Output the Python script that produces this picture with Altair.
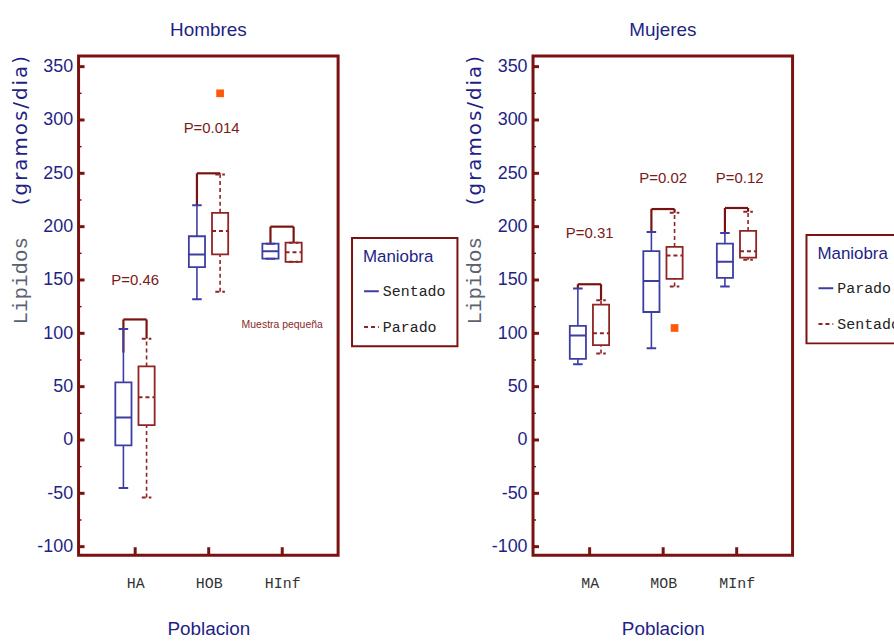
import altair as alt
import pandas as pd

# ---------------- data: Hombres ----------------
grupos_h = ["HA", "HOB", "HInf"]
h_sent_min = [-45, 132, 170]
h_sent_q1 = [-5, 162, 170]
h_sent_med = [21, 174, 177]
h_sent_q3 = [54, 191, 184]
h_sent_max = [104, 220, 184]
h_par_min = [-54, 139, 167]
h_par_q1 = [14, 174, 167]
h_par_med = [40, 196, 176]
h_par_q3 = [69, 213, 185]
h_par_max = [95, 249, 185]
h_brk_top = [113, 250, 200]
h_brk_left = [82, 220, 184]
h_brk_right = [95, 249, 185]
h_out_idx = [1]
h_out_val = [325]
h_p_text = ["P=0.46", "P=0.014"]
h_p_idx = [0, 1.04]
h_p_y = [150, 292]
h_note_text = ["Muestra pequeña"]
h_note_idx = [2.0]
h_note_y = [108]

# ---------------- data: Mujeres ----------------
grupos_m = ["MA", "MOB", "MInf"]
m_par_min = [71, 86, 144]
m_par_q1 = [76, 120, 152]
m_par_med = [98, 149, 167]
m_par_q3 = [107, 177, 184]
m_par_max = [142, 195, 194]
m_sent_min = [81, 144, 169]
m_sent_q1 = [89, 151, 171]
m_sent_med = [100, 173, 177]
m_sent_q3 = [127, 181, 196]
m_sent_max = [131, 213, 214]
m_brk_top = [146, 216.5, 217.5]
m_brk_left = [142, 195, 194]
m_brk_right = [131, 213, 214]
m_out_idx = [1]
m_out_val = [105]
m_p_text = ["P=0.31", "P=0.02", "P=0.12"]
m_p_idx = [0, 1.0, 2.04]
m_p_y = [194, 246, 246]

y_major = [-100, -50, 0, 50, 100, 150, 200, 250, 300, 350]
y_minor = [-75, -25, 25, 75, 125, 175, 225, 275, 325]

BLUE = "#3d3da3"
RED = "#8e2424"
FRAME = "#7a1212"
TBLUE = "#1f1f85"
SANS = "Liberation Sans, Arial"
MONO = "Liberation Mono, DejaVu Sans Mono"

OFF_L = -0.16
OFF_R = 0.155
HALF = 0.11
CAP = 0.065
W, H = 261, 502
HS = "\u200a"


def panel(title, grupos, names, left, right, brk, outl, pvals, note, legend_xy):
    rows = []
    for name, off, st in [(names[0], OFF_L, left), (names[1], OFF_R, right)]:
        for i in range(3):
            p = i + off
            rows.append(dict(maniobra=name, pos=p, lo=p - HALF, hi=p + HALF,
                             clo=p - CAP, chi=p + CAP,
                             vmin=st[0][i], q1=st[1][i], med=st[2][i],
                             q3=st[3][i], vmax=st[4][i]))
    box = pd.DataFrame(rows)

    xscale = alt.Scale(domain=[-0.77, 2.76], nice=False, zero=False)
    yscale = alt.Scale(domain=[-108, 360], nice=False, zero=False)
    lbl = "['" + "','".join(grupos) + "'][datum.value]"
    xaxis = alt.Axis(values=[0, 1, 2], labelExpr=lbl, labelFont=MONO,
                     labelFontSize=15, labelColor="#333333", labelPadding=20,
                     ticks=False, domain=False, grid=False, title="Poblacion",
                     titleFont=SANS, titleFontSize=19, titleColor=TBLUE,
                     titleFontWeight="normal", titlePadding=30)
    yaxis = alt.Axis(values=y_major, labelExpr="'' + datum.value",
                     labelFont=SANS, labelFontSize=18,
                     labelColor=TBLUE, labelPadding=6, ticks=False,
                     domain=False, grid=False, title=None)

    def X(f):
        return alt.X(f, type="quantitative", scale=xscale, axis=xaxis)

    def Y(f):
        return alt.Y(f, type="quantitative", scale=yscale, axis=yaxis)

    leg = alt.Legend(title="Maniobra", orient="none", legendX=legend_xy[0],
                     legendY=legend_xy[1], symbolType="stroke",
                     symbolSize=220, symbolStrokeWidth=2, labelFont=MONO,
                     labelFontSize=15, labelColor="#222222", titleFont=SANS,
                     titleFontSize=17, titleColor=TBLUE,
                     titleFontWeight="normal", strokeColor=FRAME,
                     fillColor="white", padding=11, rowPadding=19,
                     titlePadding=17, labelOffset=3)
    color = alt.Color("maniobra:N", scale=alt.Scale(domain=names, range=[BLUE, RED]), legend=leg)
    dash = alt.StrokeDash("maniobra:N", scale=alt.Scale(domain=names, range=[[1, 0], [4, 3]]), legend=leg)

    base = alt.Chart(box)
    w_up = base.mark_rule(strokeWidth=1.6).encode(x=X("pos"), y=Y("q3"), y2="vmax", color=color, strokeDash=dash)
    w_dn = base.mark_rule(strokeWidth=1.6).encode(x=X("pos"), y=Y("vmin"), y2="q1", color=color, strokeDash=dash)
    cap_up = base.mark_rule(strokeWidth=2).encode(x=X("clo"), x2="chi", y=Y("vmax"), color=color, strokeDash=dash)
    cap_dn = base.mark_rule(strokeWidth=2).encode(x=X("clo"), x2="chi", y=Y("vmin"), color=color, strokeDash=dash)
    boxes = base.mark_rect(filled=False, strokeWidth=1.8).encode(x=X("lo"), x2="hi", y=Y("q1"), y2="q3", color=color, strokeDash=dash)
    meds = base.mark_rule(strokeWidth=2).encode(x=X("lo"), x2="hi", y=Y("med"), color=color, strokeDash=dash)

    bdf = pd.DataFrame(dict(xl=[i + OFF_L for i in range(3)], xr=[i + OFF_R for i in range(3)],
                            top=brk[0], lb=brk[1], rb=brk[2]))
    bb = alt.Chart(bdf)
    b_top = bb.mark_rule(color=FRAME, strokeWidth=2.2).encode(x=X("xl"), x2="xr", y=Y("top"))
    b_l = bb.mark_rule(color=FRAME, strokeWidth=2.2).encode(x=X("xl"), y=Y("top"), y2="lb")
    b_r = bb.mark_rule(color=FRAME, strokeWidth=2.2).encode(x=X("xr"), y=Y("top"), y2="rb")

    odf = pd.DataFrame(dict(x=[i + OFF_R for i in outl[0]], v=outl[1]))
    outp = alt.Chart(odf).mark_point(shape="square", filled=True, opacity=1,
                                     color="#ff5a0a", size=60).encode(x=X("x"), y=Y("v"))

    pdf = pd.DataFrame(dict(t=pvals[0], x=pvals[1], v=pvals[2]))
    ptxt = alt.Chart(pdf).mark_text(font=SANS, fontSize=15, color="#7a1a1a").encode(
        x=X("x"), y=Y("v"), text="t:N")

    layers = [b_top, b_l, b_r, w_up, w_dn, cap_up, cap_dn, boxes, meds, outp, ptxt]

    if note is not None:
        ndf = pd.DataFrame(dict(t=note[0], x=note[1], v=note[2]))
        layers.append(alt.Chart(ndf).mark_text(font=SANS, fontSize=10.5, color="#8a2a2a").encode(
            x=X("x"), y=Y("v"), text="t:N"))

    maj = alt.Chart(pd.DataFrame(dict(v=y_major))).mark_rule(color=FRAME, strokeWidth=3).encode(
        y=Y("v"), x=alt.value(0), x2=alt.value(6))
    mnr = alt.Chart(pd.DataFrame(dict(v=y_minor))).mark_rule(color=FRAME, strokeWidth=1.5).encode(
        y=Y("v"), x=alt.value(0), x2=alt.value(3))
    xt = alt.Chart(pd.DataFrame(dict(i=[0, 1, 2]))).mark_rule(color=FRAME, strokeWidth=3).encode(
        x=X("i"), y=alt.value(H), y2=alt.value(H - 8))
    one = pd.DataFrame(dict(a=[0]))
    t1 = alt.Chart(one).mark_text(angle=270, font="DejaVu Sans", fontSize=20, color=TBLUE).encode(
        x=alt.value(-58), y=alt.value(75), text=alt.value(HS.join("(gramos/dia)")))
    t2 = alt.Chart(one).mark_text(angle=270, font=MONO, fontSize=21, color="#5a6272").encode(
        x=alt.value(-58), y=alt.value(226), text=alt.value("Lipidos"))
    layers += [maj, mnr, xt, t1, t2]

    return alt.layer(*layers).properties(
        width=W, height=H,
        title=alt.Title(title, font=SANS, fontSize=19, color=TBLUE,
                        fontWeight="normal", offset=16))


left = panel("Hombres", grupos_h, ["Sentado", "Parado"],
             [h_sent_min, h_sent_q1, h_sent_med, h_sent_q3, h_sent_max],
             [h_par_min, h_par_q1, h_par_med, h_par_q3, h_par_max],
             [h_brk_top, h_brk_left, h_brk_right], [h_out_idx, h_out_val],
             [h_p_text, h_p_idx, h_p_y], [h_note_text, h_note_idx, h_note_y], (275, 183))
right = panel("Mujeres", grupos_m, ["Parado", "Sentado"],
              [m_par_min, m_par_q1, m_par_med, m_par_q3, m_par_max],
              [m_sent_min, m_sent_q1, m_sent_med, m_sent_q3, m_sent_max],
              [m_brk_top, m_brk_left, m_brk_right], [m_out_idx, m_out_val],
              [m_p_text, m_p_idx, m_p_y], None, (275, 180))

chart = alt.hconcat(left, right, spacing=2).resolve_scale(
    color="independent", strokeDash="independent").properties(
    padding={"left": 8, "top": 17.5, "right": -21, "bottom": 0},
    background="white"
).configure_view(stroke=FRAME, strokeWidth=3).configure_legend(strokeWidth=2)

chart.save("out.html", embed_options={"renderer": "svg", "actions": False})
